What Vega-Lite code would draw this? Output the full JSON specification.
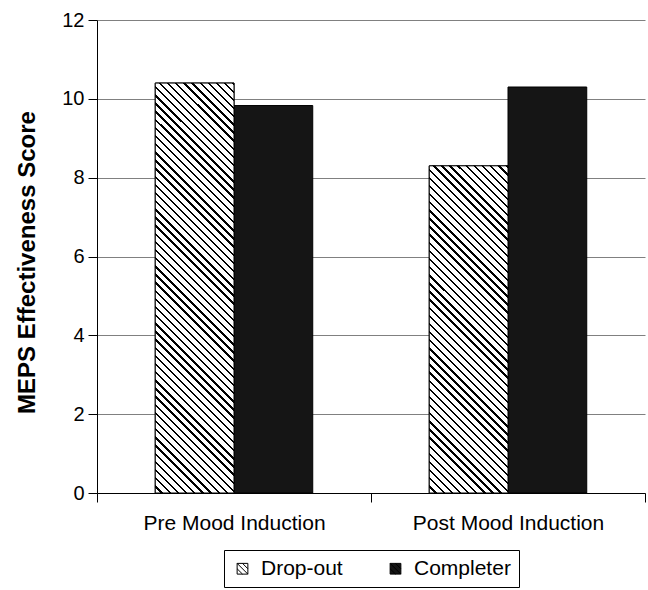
{
  "$schema": "https://vega.github.io/schema/vega-lite/v6.json",
  "autosize": {"type": "none"},
  "padding": {"left": 97, "top": 20, "right": 3, "bottom": 97},
  "width": 548,
  "height": 473,
  "background": "white",
  "config": {
    "font": "Liberation Sans",
    "view": {"stroke": null},
    "axis": {"domainColor": "black", "tickColor": "black", "labelColor": "black", "titleColor": "black", "tickSize": 9, "domainWidth": 1, "tickWidth": 1}
  },
  "data": {
    "values": [
      {"phase": "Pre Mood Induction", "group": "Drop-out", "value": 10.4},
      {"phase": "Pre Mood Induction", "group": "Completer", "value": 9.83},
      {"phase": "Post Mood Induction", "group": "Drop-out", "value": 8.3},
      {"phase": "Post Mood Induction", "group": "Completer", "value": 10.3}
    ]
  },
  "encoding": {
    "x": {
      "field": "phase", "type": "nominal",
      "sort": ["Pre Mood Induction", "Post Mood Induction"],
      "scale": {"paddingInner": 0, "paddingOuter": 0},
      "axis": {"title": null, "labelAngle": 0, "labelFontSize": 21, "labelPadding": 10, "labelLimit": 400, "tickBand": "extent", "grid": false}
    },
    "xOffset": {
      "field": "group", "type": "nominal",
      "sort": ["Drop-out", "Completer"],
      "scale": {"paddingInner": 0, "paddingOuter": 0.74}
    },
    "y": {
      "field": "value", "type": "quantitative",
      "scale": {"domain": [0, 12]},
      "axis": {
        "title": "MEPS Effectiveness Score",
        "values": [0, 2, 4, 6, 8, 10, 12],
        "grid": true, "gridColor": "#808080", "gridWidth": 1,
        "labelFontSize": 20, "labelPadding": 4,
        "titleFontSize": 24, "titleFontWeight": "bold",
        "titleAngle": -90, "titleAlign": "center", "titleBaseline": "alphabetic",
        "titleX": -63, "titleY": 242
      }
    }
  },
  "layer": [
    {
      "mark": {"type": "bar", "stroke": "black", "strokeWidth": 1},
      "encoding": {
        "color": {
          "field": "group", "type": "nominal",
          "scale": {"domain": ["Drop-out", "Completer"], "range": ["#ffffff", "#151515"]},
          "legend": {
            "title": null, "orient": "none", "legendX": 127, "legendY": 530,
            "direction": "horizontal", "strokeColor": "black", "fillColor": "white",
            "padding": 8, "symbolSize": 115,
            "symbolType": "M-1,-1H1V1H-1Z M-1,-1L1,1 M-1,0L0,1 M0,-1L1,0",
            "symbolStrokeColor": "black", "symbolStrokeWidth": 1, "symbolOpacity": 1,
            "labelFontSize": 21, "labelColor": "black", "labelOffset": 8, "columnPadding": 42
          }
        }
      }
    },
    {
      "transform": [{"filter": "datum.group === 'Drop-out'"}],
      "mark": {"type": "bar", "stroke": "black", "strokeWidth": 1},
      "encoding": {
        "fill": {
          "condition": {
            "test": "datum.phase === 'Pre Mood Induction'",
            "value": {"gradient": "linear", "x1": 0, "y1": 1, "x2": 0.2208, "y2": -0.1499, "stops": [
{"offset":0,"color":"#fff"},{"offset":0.0117,"color":"#fff"},{"offset":0.0117,"color":"#000"},{"offset":0.0167,"color":"#000"},
{"offset":0.0167,"color":"#fff"},{"offset":0.0284,"color":"#fff"},{"offset":0.0284,"color":"#000"},{"offset":0.0333,"color":"#000"},
{"offset":0.0333,"color":"#fff"},{"offset":0.045,"color":"#fff"},{"offset":0.045,"color":"#000"},{"offset":0.05,"color":"#000"},
{"offset":0.05,"color":"#fff"},{"offset":0.0617,"color":"#fff"},{"offset":0.0617,"color":"#000"},{"offset":0.0667,"color":"#000"},
{"offset":0.0667,"color":"#fff"},{"offset":0.0784,"color":"#fff"},{"offset":0.0784,"color":"#000"},{"offset":0.0833,"color":"#000"},
{"offset":0.0833,"color":"#fff"},{"offset":0.095,"color":"#fff"},{"offset":0.095,"color":"#000"},{"offset":0.1,"color":"#000"},
{"offset":0.1,"color":"#fff"},{"offset":0.1117,"color":"#fff"},{"offset":0.1117,"color":"#000"},{"offset":0.1167,"color":"#000"},
{"offset":0.1167,"color":"#fff"},{"offset":0.1284,"color":"#fff"},{"offset":0.1284,"color":"#000"},{"offset":0.1333,"color":"#000"},
{"offset":0.1333,"color":"#fff"},{"offset":0.145,"color":"#fff"},{"offset":0.145,"color":"#000"},{"offset":0.15,"color":"#000"},
{"offset":0.15,"color":"#fff"},{"offset":0.1617,"color":"#fff"},{"offset":0.1617,"color":"#000"},{"offset":0.1667,"color":"#000"},
{"offset":0.1667,"color":"#fff"},{"offset":0.1784,"color":"#fff"},{"offset":0.1784,"color":"#000"},{"offset":0.1833,"color":"#000"},
{"offset":0.1833,"color":"#fff"},{"offset":0.195,"color":"#fff"},{"offset":0.195,"color":"#000"},{"offset":0.2,"color":"#000"},
{"offset":0.2,"color":"#fff"},{"offset":0.2117,"color":"#fff"},{"offset":0.2117,"color":"#000"},{"offset":0.2167,"color":"#000"},
{"offset":0.2167,"color":"#fff"},{"offset":0.2284,"color":"#fff"},{"offset":0.2284,"color":"#000"},{"offset":0.2333,"color":"#000"},
{"offset":0.2333,"color":"#fff"},{"offset":0.245,"color":"#fff"},{"offset":0.245,"color":"#000"},{"offset":0.25,"color":"#000"},
{"offset":0.25,"color":"#fff"},{"offset":0.2617,"color":"#fff"},{"offset":0.2617,"color":"#000"},{"offset":0.2667,"color":"#000"},
{"offset":0.2667,"color":"#fff"},{"offset":0.2784,"color":"#fff"},{"offset":0.2784,"color":"#000"},{"offset":0.2833,"color":"#000"},
{"offset":0.2833,"color":"#fff"},{"offset":0.295,"color":"#fff"},{"offset":0.295,"color":"#000"},{"offset":0.3,"color":"#000"},
{"offset":0.3,"color":"#fff"},{"offset":0.3117,"color":"#fff"},{"offset":0.3117,"color":"#000"},{"offset":0.3167,"color":"#000"},
{"offset":0.3167,"color":"#fff"},{"offset":0.3284,"color":"#fff"},{"offset":0.3284,"color":"#000"},{"offset":0.3333,"color":"#000"},
{"offset":0.3333,"color":"#fff"},{"offset":0.345,"color":"#fff"},{"offset":0.345,"color":"#000"},{"offset":0.35,"color":"#000"},
{"offset":0.35,"color":"#fff"},{"offset":0.3617,"color":"#fff"},{"offset":0.3617,"color":"#000"},{"offset":0.3667,"color":"#000"},
{"offset":0.3667,"color":"#fff"},{"offset":0.3784,"color":"#fff"},{"offset":0.3784,"color":"#000"},{"offset":0.3833,"color":"#000"},
{"offset":0.3833,"color":"#fff"},{"offset":0.395,"color":"#fff"},{"offset":0.395,"color":"#000"},{"offset":0.4,"color":"#000"},
{"offset":0.4,"color":"#fff"},{"offset":0.4117,"color":"#fff"},{"offset":0.4117,"color":"#000"},{"offset":0.4167,"color":"#000"},
{"offset":0.4167,"color":"#fff"},{"offset":0.4284,"color":"#fff"},{"offset":0.4284,"color":"#000"},{"offset":0.4333,"color":"#000"},
{"offset":0.4333,"color":"#fff"},{"offset":0.445,"color":"#fff"},{"offset":0.445,"color":"#000"},{"offset":0.45,"color":"#000"},
{"offset":0.45,"color":"#fff"},{"offset":0.4617,"color":"#fff"},{"offset":0.4617,"color":"#000"},{"offset":0.4667,"color":"#000"},
{"offset":0.4667,"color":"#fff"},{"offset":0.4784,"color":"#fff"},{"offset":0.4784,"color":"#000"},{"offset":0.4833,"color":"#000"},
{"offset":0.4833,"color":"#fff"},{"offset":0.495,"color":"#fff"},{"offset":0.495,"color":"#000"},{"offset":0.5,"color":"#000"},
{"offset":0.5,"color":"#fff"},{"offset":0.5117,"color":"#fff"},{"offset":0.5117,"color":"#000"},{"offset":0.5167,"color":"#000"},
{"offset":0.5167,"color":"#fff"},{"offset":0.5284,"color":"#fff"},{"offset":0.5284,"color":"#000"},{"offset":0.5333,"color":"#000"},
{"offset":0.5333,"color":"#fff"},{"offset":0.545,"color":"#fff"},{"offset":0.545,"color":"#000"},{"offset":0.55,"color":"#000"},
{"offset":0.55,"color":"#fff"},{"offset":0.5617,"color":"#fff"},{"offset":0.5617,"color":"#000"},{"offset":0.5667,"color":"#000"},
{"offset":0.5667,"color":"#fff"},{"offset":0.5784,"color":"#fff"},{"offset":0.5784,"color":"#000"},{"offset":0.5833,"color":"#000"},
{"offset":0.5833,"color":"#fff"},{"offset":0.595,"color":"#fff"},{"offset":0.595,"color":"#000"},{"offset":0.6,"color":"#000"},
{"offset":0.6,"color":"#fff"},{"offset":0.6117,"color":"#fff"},{"offset":0.6117,"color":"#000"},{"offset":0.6167,"color":"#000"},
{"offset":0.6167,"color":"#fff"},{"offset":0.6284,"color":"#fff"},{"offset":0.6284,"color":"#000"},{"offset":0.6333,"color":"#000"},
{"offset":0.6333,"color":"#fff"},{"offset":0.645,"color":"#fff"},{"offset":0.645,"color":"#000"},{"offset":0.65,"color":"#000"},
{"offset":0.65,"color":"#fff"},{"offset":0.6617,"color":"#fff"},{"offset":0.6617,"color":"#000"},{"offset":0.6667,"color":"#000"},
{"offset":0.6667,"color":"#fff"},{"offset":0.6784,"color":"#fff"},{"offset":0.6784,"color":"#000"},{"offset":0.6833,"color":"#000"},
{"offset":0.6833,"color":"#fff"},{"offset":0.695,"color":"#fff"},{"offset":0.695,"color":"#000"},{"offset":0.7,"color":"#000"},
{"offset":0.7,"color":"#fff"},{"offset":0.7117,"color":"#fff"},{"offset":0.7117,"color":"#000"},{"offset":0.7167,"color":"#000"},
{"offset":0.7167,"color":"#fff"},{"offset":0.7284,"color":"#fff"},{"offset":0.7284,"color":"#000"},{"offset":0.7333,"color":"#000"},
{"offset":0.7333,"color":"#fff"},{"offset":0.745,"color":"#fff"},{"offset":0.745,"color":"#000"},{"offset":0.75,"color":"#000"},
{"offset":0.75,"color":"#fff"},{"offset":0.7617,"color":"#fff"},{"offset":0.7617,"color":"#000"},{"offset":0.7667,"color":"#000"},
{"offset":0.7667,"color":"#fff"},{"offset":0.7784,"color":"#fff"},{"offset":0.7784,"color":"#000"},{"offset":0.7833,"color":"#000"},
{"offset":0.7833,"color":"#fff"},{"offset":0.795,"color":"#fff"},{"offset":0.795,"color":"#000"},{"offset":0.8,"color":"#000"},
{"offset":0.8,"color":"#fff"},{"offset":0.8117,"color":"#fff"},{"offset":0.8117,"color":"#000"},{"offset":0.8167,"color":"#000"},
{"offset":0.8167,"color":"#fff"},{"offset":0.8284,"color":"#fff"},{"offset":0.8284,"color":"#000"},{"offset":0.8333,"color":"#000"},
{"offset":0.8333,"color":"#fff"},{"offset":0.845,"color":"#fff"},{"offset":0.845,"color":"#000"},{"offset":0.85,"color":"#000"},
{"offset":0.85,"color":"#fff"},{"offset":0.8617,"color":"#fff"},{"offset":0.8617,"color":"#000"},{"offset":0.8667,"color":"#000"},
{"offset":0.8667,"color":"#fff"},{"offset":0.8784,"color":"#fff"},{"offset":0.8784,"color":"#000"},{"offset":0.8833,"color":"#000"},
{"offset":0.8833,"color":"#fff"},{"offset":0.895,"color":"#fff"},{"offset":0.895,"color":"#000"},{"offset":0.9,"color":"#000"},
{"offset":0.9,"color":"#fff"},{"offset":0.9117,"color":"#fff"},{"offset":0.9117,"color":"#000"},{"offset":0.9167,"color":"#000"},
{"offset":0.9167,"color":"#fff"},{"offset":0.9284,"color":"#fff"},{"offset":0.9284,"color":"#000"},{"offset":0.9333,"color":"#000"},
{"offset":0.9333,"color":"#fff"},{"offset":0.945,"color":"#fff"},{"offset":0.945,"color":"#000"},{"offset":0.95,"color":"#000"},
{"offset":0.95,"color":"#fff"},{"offset":0.9617,"color":"#fff"},{"offset":0.9617,"color":"#000"},{"offset":0.9667,"color":"#000"},
{"offset":0.9667,"color":"#fff"},{"offset":0.9784,"color":"#fff"},{"offset":0.9784,"color":"#000"},{"offset":0.9833,"color":"#000"},
{"offset":0.9833,"color":"#fff"},{"offset":0.995,"color":"#fff"},{"offset":0.995,"color":"#000"},{"offset":1,"color":"#000"}
            ]}
          },
          "value": {"gradient": "linear", "x1": 0, "y1": 1, "x2": 0.2821, "y2": -0.1727, "stops": [
{"offset":0,"color":"#fff"},{"offset":0.014,"color":"#fff"},{"offset":0.014,"color":"#000"},{"offset":0.02,"color":"#000"},
{"offset":0.02,"color":"#fff"},{"offset":0.034,"color":"#fff"},{"offset":0.034,"color":"#000"},{"offset":0.04,"color":"#000"},
{"offset":0.04,"color":"#fff"},{"offset":0.054,"color":"#fff"},{"offset":0.054,"color":"#000"},{"offset":0.06,"color":"#000"},
{"offset":0.06,"color":"#fff"},{"offset":0.074,"color":"#fff"},{"offset":0.074,"color":"#000"},{"offset":0.08,"color":"#000"},
{"offset":0.08,"color":"#fff"},{"offset":0.094,"color":"#fff"},{"offset":0.094,"color":"#000"},{"offset":0.1,"color":"#000"},
{"offset":0.1,"color":"#fff"},{"offset":0.114,"color":"#fff"},{"offset":0.114,"color":"#000"},{"offset":0.12,"color":"#000"},
{"offset":0.12,"color":"#fff"},{"offset":0.134,"color":"#fff"},{"offset":0.134,"color":"#000"},{"offset":0.14,"color":"#000"},
{"offset":0.14,"color":"#fff"},{"offset":0.154,"color":"#fff"},{"offset":0.154,"color":"#000"},{"offset":0.16,"color":"#000"},
{"offset":0.16,"color":"#fff"},{"offset":0.174,"color":"#fff"},{"offset":0.174,"color":"#000"},{"offset":0.18,"color":"#000"},
{"offset":0.18,"color":"#fff"},{"offset":0.194,"color":"#fff"},{"offset":0.194,"color":"#000"},{"offset":0.2,"color":"#000"},
{"offset":0.2,"color":"#fff"},{"offset":0.214,"color":"#fff"},{"offset":0.214,"color":"#000"},{"offset":0.22,"color":"#000"},
{"offset":0.22,"color":"#fff"},{"offset":0.234,"color":"#fff"},{"offset":0.234,"color":"#000"},{"offset":0.24,"color":"#000"},
{"offset":0.24,"color":"#fff"},{"offset":0.254,"color":"#fff"},{"offset":0.254,"color":"#000"},{"offset":0.26,"color":"#000"},
{"offset":0.26,"color":"#fff"},{"offset":0.274,"color":"#fff"},{"offset":0.274,"color":"#000"},{"offset":0.28,"color":"#000"},
{"offset":0.28,"color":"#fff"},{"offset":0.294,"color":"#fff"},{"offset":0.294,"color":"#000"},{"offset":0.3,"color":"#000"},
{"offset":0.3,"color":"#fff"},{"offset":0.314,"color":"#fff"},{"offset":0.314,"color":"#000"},{"offset":0.32,"color":"#000"},
{"offset":0.32,"color":"#fff"},{"offset":0.334,"color":"#fff"},{"offset":0.334,"color":"#000"},{"offset":0.34,"color":"#000"},
{"offset":0.34,"color":"#fff"},{"offset":0.354,"color":"#fff"},{"offset":0.354,"color":"#000"},{"offset":0.36,"color":"#000"},
{"offset":0.36,"color":"#fff"},{"offset":0.374,"color":"#fff"},{"offset":0.374,"color":"#000"},{"offset":0.38,"color":"#000"},
{"offset":0.38,"color":"#fff"},{"offset":0.394,"color":"#fff"},{"offset":0.394,"color":"#000"},{"offset":0.4,"color":"#000"},
{"offset":0.4,"color":"#fff"},{"offset":0.414,"color":"#fff"},{"offset":0.414,"color":"#000"},{"offset":0.42,"color":"#000"},
{"offset":0.42,"color":"#fff"},{"offset":0.434,"color":"#fff"},{"offset":0.434,"color":"#000"},{"offset":0.44,"color":"#000"},
{"offset":0.44,"color":"#fff"},{"offset":0.454,"color":"#fff"},{"offset":0.454,"color":"#000"},{"offset":0.46,"color":"#000"},
{"offset":0.46,"color":"#fff"},{"offset":0.474,"color":"#fff"},{"offset":0.474,"color":"#000"},{"offset":0.48,"color":"#000"},
{"offset":0.48,"color":"#fff"},{"offset":0.494,"color":"#fff"},{"offset":0.494,"color":"#000"},{"offset":0.5,"color":"#000"},
{"offset":0.5,"color":"#fff"},{"offset":0.514,"color":"#fff"},{"offset":0.514,"color":"#000"},{"offset":0.52,"color":"#000"},
{"offset":0.52,"color":"#fff"},{"offset":0.534,"color":"#fff"},{"offset":0.534,"color":"#000"},{"offset":0.54,"color":"#000"},
{"offset":0.54,"color":"#fff"},{"offset":0.554,"color":"#fff"},{"offset":0.554,"color":"#000"},{"offset":0.56,"color":"#000"},
{"offset":0.56,"color":"#fff"},{"offset":0.574,"color":"#fff"},{"offset":0.574,"color":"#000"},{"offset":0.58,"color":"#000"},
{"offset":0.58,"color":"#fff"},{"offset":0.594,"color":"#fff"},{"offset":0.594,"color":"#000"},{"offset":0.6,"color":"#000"},
{"offset":0.6,"color":"#fff"},{"offset":0.614,"color":"#fff"},{"offset":0.614,"color":"#000"},{"offset":0.62,"color":"#000"},
{"offset":0.62,"color":"#fff"},{"offset":0.634,"color":"#fff"},{"offset":0.634,"color":"#000"},{"offset":0.64,"color":"#000"},
{"offset":0.64,"color":"#fff"},{"offset":0.654,"color":"#fff"},{"offset":0.654,"color":"#000"},{"offset":0.66,"color":"#000"},
{"offset":0.66,"color":"#fff"},{"offset":0.674,"color":"#fff"},{"offset":0.674,"color":"#000"},{"offset":0.68,"color":"#000"},
{"offset":0.68,"color":"#fff"},{"offset":0.694,"color":"#fff"},{"offset":0.694,"color":"#000"},{"offset":0.7,"color":"#000"},
{"offset":0.7,"color":"#fff"},{"offset":0.714,"color":"#fff"},{"offset":0.714,"color":"#000"},{"offset":0.72,"color":"#000"},
{"offset":0.72,"color":"#fff"},{"offset":0.734,"color":"#fff"},{"offset":0.734,"color":"#000"},{"offset":0.74,"color":"#000"},
{"offset":0.74,"color":"#fff"},{"offset":0.754,"color":"#fff"},{"offset":0.754,"color":"#000"},{"offset":0.76,"color":"#000"},
{"offset":0.76,"color":"#fff"},{"offset":0.774,"color":"#fff"},{"offset":0.774,"color":"#000"},{"offset":0.78,"color":"#000"},
{"offset":0.78,"color":"#fff"},{"offset":0.794,"color":"#fff"},{"offset":0.794,"color":"#000"},{"offset":0.8,"color":"#000"},
{"offset":0.8,"color":"#fff"},{"offset":0.814,"color":"#fff"},{"offset":0.814,"color":"#000"},{"offset":0.82,"color":"#000"},
{"offset":0.82,"color":"#fff"},{"offset":0.834,"color":"#fff"},{"offset":0.834,"color":"#000"},{"offset":0.84,"color":"#000"},
{"offset":0.84,"color":"#fff"},{"offset":0.854,"color":"#fff"},{"offset":0.854,"color":"#000"},{"offset":0.86,"color":"#000"},
{"offset":0.86,"color":"#fff"},{"offset":0.874,"color":"#fff"},{"offset":0.874,"color":"#000"},{"offset":0.88,"color":"#000"},
{"offset":0.88,"color":"#fff"},{"offset":0.894,"color":"#fff"},{"offset":0.894,"color":"#000"},{"offset":0.9,"color":"#000"},
{"offset":0.9,"color":"#fff"},{"offset":0.914,"color":"#fff"},{"offset":0.914,"color":"#000"},{"offset":0.92,"color":"#000"},
{"offset":0.92,"color":"#fff"},{"offset":0.934,"color":"#fff"},{"offset":0.934,"color":"#000"},{"offset":0.94,"color":"#000"},
{"offset":0.94,"color":"#fff"},{"offset":0.954,"color":"#fff"},{"offset":0.954,"color":"#000"},{"offset":0.96,"color":"#000"},
{"offset":0.96,"color":"#fff"},{"offset":0.974,"color":"#fff"},{"offset":0.974,"color":"#000"},{"offset":0.98,"color":"#000"},
{"offset":0.98,"color":"#fff"},{"offset":0.994,"color":"#fff"},{"offset":0.994,"color":"#000"},{"offset":1,"color":"#000"}
          ]}
        }
      }
    }
  ]
}
